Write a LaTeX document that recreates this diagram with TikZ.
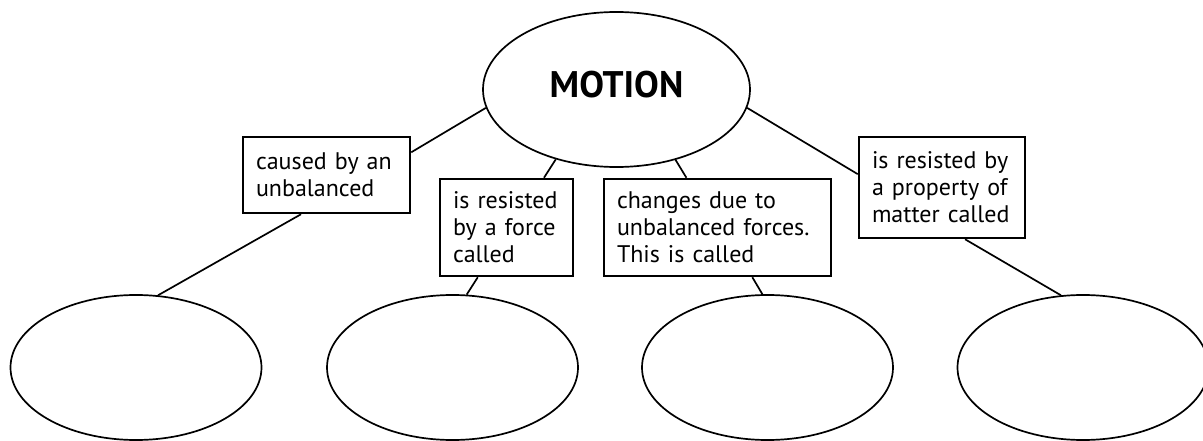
\documentclass[tikz,border=0pt]{standalone}
\usepackage{fontspec}
\setmainfont{PT Sans}
\usetikzlibrary{shapes.geometric}

\begin{document}
\begin{tikzpicture}[x=1pt, y=-1pt, every node/.style={font=\fontsize{24}{27}\selectfont}]
      % Styles
      \tikzset{
        bubble/.style={ellipse, draw, line width=1.7pt, inner sep=0pt},
        topic/.style={bubble, minimum width=267pt, minimum height=155pt, font=\fontsize{37}{40}\selectfont\bfseries, text depth=10pt},
        answer/.style={bubble, minimum width=251pt, minimum height=145pt},
        phrase/.style={rectangle, draw, line width=2.5pt, inner xsep=13pt, inner ysep=0pt, align=left},
        link/.style={line width=1.7pt}
      }
      \useasboundingbox (0,0) rectangle (1203,441);

      % Nodes
      \node (motion) [topic] at (616.5,89.5) {MOTION};

      \node (cause) [phrase, text width=141pt, minimum height=76pt] at (326.5,175) {caused by an\\unbalanced};
      \node (resist) [phrase, text width=107pt, minimum height=97pt] at (506.5,227.5) {is resisted\\by a force\\called};
      \node (change) [phrase, text width=201pt, minimum height=97pt] at (717.5,227.5) {changes due to\\unbalanced forces.\\This is called};
      \node (matter) [phrase, text width=140pt, minimum height=101pt] at (942,187.5) {is resisted by\\a property of\\matter called};

      \node (blank1) [answer] at (136,367.5) {};
      \node (blank2) [answer] at (452.5,367.5) {};
      \node (blank3) [answer] at (767.5,367.5) {};
      \node (blank4) [answer] at (1083,367.5) {};

      % Lines
      \draw [link] (motion.188) -- (cause.15);
      \draw [link] (motion.229) -- (resist.53);
      \draw [link] (motion.310) -- (change.122);
      \draw [link] (motion.352.5) -- (matter.171);

      \draw [link] (cause.237) -- (blank1.73);
      \draw [link] (resist.240) -- (blank2.79);
      \draw [link] (change.305) -- (blank3.94);
      \draw [link] (matter.294.5) -- (blank4.107);
    \end{tikzpicture}
\end{document}
